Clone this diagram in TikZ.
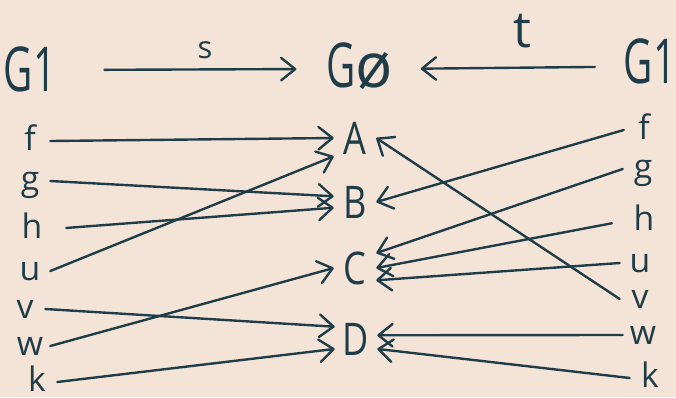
\documentclass[tikz,border=0pt]{standalone}
\usepackage{fontspec}
\setmainfont{Open Sans}
\usepackage{graphicx}
\usetikzlibrary{arrows.meta}
\definecolor{ink}{HTML}{1E3D49}
\definecolor{paper}{HTML}{F4E4D8}

\begin{document}
\begin{tikzpicture}[
  x=0.025cm,y=-0.025cm,
  arr/.style={draw=ink,line width=1.7pt,line cap=round,-{Straight Barb[round,length=10pt,width=16pt]}},
  big/.style={text=ink,font=\fontsize{44}{44}\selectfont,inner sep=0pt,text height=31pt,text depth=0pt},
  hub/.style={text=ink,font=\fontsize{32}{32}\selectfont,inner sep=0pt,minimum width=1.05cm,minimum height=0.9cm,text height=22.8pt,text depth=0pt},
  lbl/.style={text=ink,font=\fontsize{24}{24}\selectfont,inner sep=0pt,minimum width=1cm,text height=12.8pt,text depth=0pt},
  tag/.style={text=ink,anchor=base},
]
\useasboundingbox (0,0) rectangle (676,397);
\fill[paper] (0,0) rectangle (676,397);

\node[big] (gl) at (30,70) {\scalebox{0.65}[1]{G1}};
\node[big] (gz) at (360,66) {\scalebox{0.65}[1]{G}ø};
\node[big] (gr) at (650,62) {\scalebox{0.65}[1]{G1}};
\node[tag,font=\fontsize{22}{22}\selectfont] (slbl) at (205,58) {s};
\node[tag,font=\fontsize{36}{36}\selectfont] (tlbl) at (522,47) {t};
\draw[arr,shorten <=1.2cm,shorten >=0.75cm] (gl.east) -- (gz.185);
\draw[arr,shorten <=0.72cm,shorten >=0.68cm] (gr.190) -- (gz.355);

\node[hub] (A) at (355,138) {\scalebox{0.8}[1]{A}};
\node[hub] (B) at (355,202) {\scalebox{0.8}[1]{B}};
\node[hub] (C) at (355,268) {\scalebox{0.8}[1]{C}};
\node[hub] (D) at (356,339) {\scalebox{0.8}[1]{D}};

\node[lbl] (lf) at (30,141) {f};
\node[lbl] (lg) at (30,181) {g};
\node[lbl] (lh) at (32,229) {h};
\node[lbl] (lu) at (30,271) {u};
\node[lbl] (lv) at (25,309) {v};
\node[lbl] (lw) at (30,346) {w};
\node[lbl] (lk) at (37,382) {k};

\node[lbl] (rf) at (644,130) {f};
\node[lbl] (rg) at (643,169) {g};
\node[lbl] (rh) at (644,221) {h};
\node[lbl] (ru) at (640,263) {u};
\node[lbl] (rv) at (640,299) {v};
\node[lbl] (rw) at (643,335) {w};
\node[lbl] (rk) at (650,378) {k};

\draw[arr] (lf.east) -- (A.west);
\draw[arr] (lg.east) -- (B.165);
\draw[arr,shorten <=0.35cm] (lh.east) -- (B.195);
\draw[arr] (lu.east) -- (A.south west);
\draw[arr] (lv.east) -- (D.150);
\draw[arr] (lw.east) -- (C.west);
\draw[arr] (lk.east) -- (D.205);

\draw[arr] (rf.west) -- (B.east);
\draw[arr] (rg.west) -- (C.35);
\draw[arr,shorten <=0.3cm] (rh.west) -- (C.east);
\draw[arr] (ru.west) -- (C.330);
\draw[arr] (rv.west) -- (A.east);
\draw[arr] (rw.west) -- (D.10);
\draw[arr] (rk.west) -- (D.335);
\end{tikzpicture}
\end{document}
